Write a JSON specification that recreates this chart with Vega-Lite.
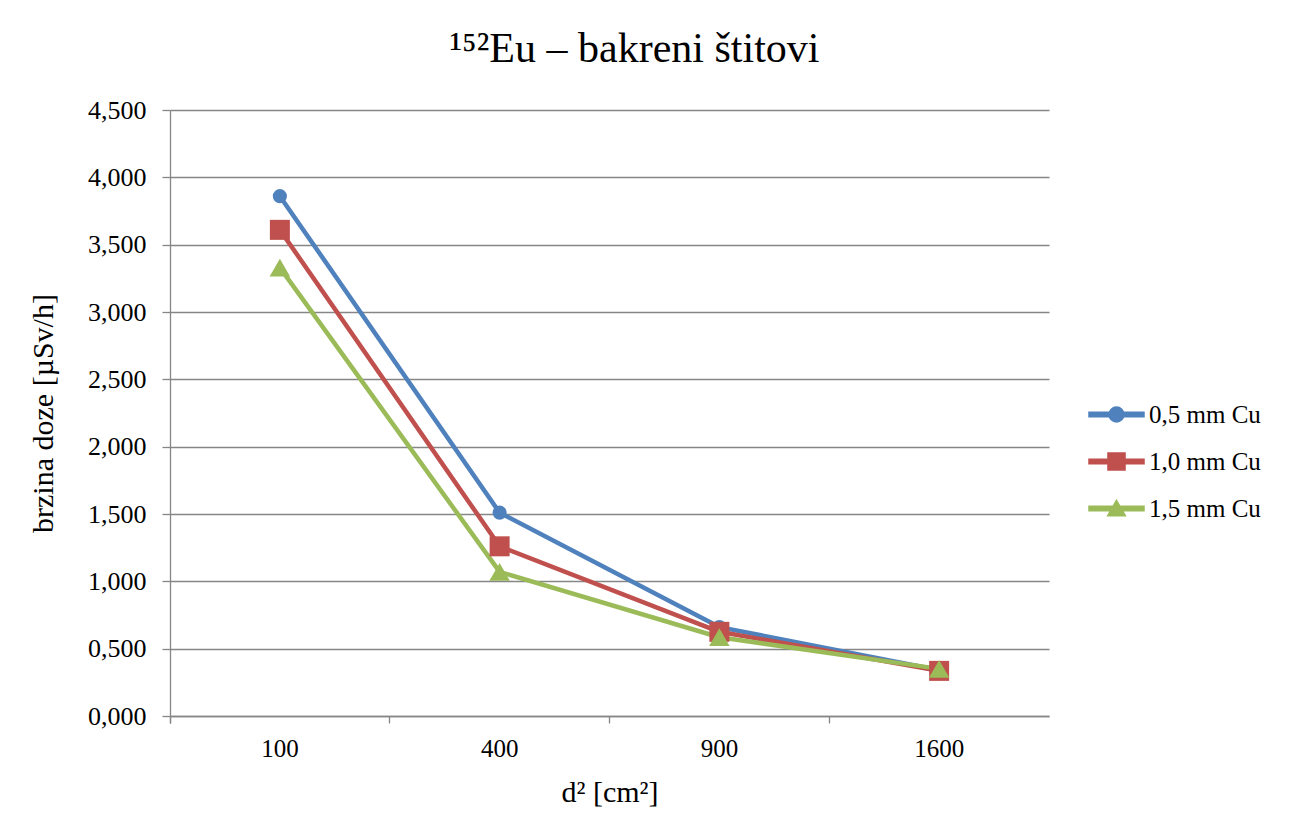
{
  "$schema": "https://vega.github.io/schema/vega-lite/v6.json",
  "width": 879,
  "height": 606,
  "autosize": {"type": "none"},
  "padding": {"left": 170, "top": 110, "right": 251, "bottom": 118},
  "background": "white",
  "config": {"view": {"stroke": null}, "font": "Liberation Serif"},
  "title": {"text": "¹⁵²Eu – bakreni štitovi", "fontSize": 42, "font": "Liberation Serif", "fontWeight": "normal", "color": "black", "anchor": "middle", "frame": "group", "dx": 25, "offset": 26},
  "data": {"values": [
    {"d2": "100", "doza": 3.86, "serija": "0,5 mm Cu"},
    {"d2": "400", "doza": 1.51, "serija": "0,5 mm Cu"},
    {"d2": "900", "doza": 0.66, "serija": "0,5 mm Cu"},
    {"d2": "1600", "doza": 0.34, "serija": "0,5 mm Cu"},
    {"d2": "100", "doza": 3.61, "serija": "1,0 mm Cu"},
    {"d2": "400", "doza": 1.26, "serija": "1,0 mm Cu"},
    {"d2": "900", "doza": 0.625, "serija": "1,0 mm Cu"},
    {"d2": "1600", "doza": 0.335, "serija": "1,0 mm Cu"},
    {"d2": "100", "doza": 3.33, "serija": "1,5 mm Cu"},
    {"d2": "400", "doza": 1.07, "serija": "1,5 mm Cu"},
    {"d2": "900", "doza": 0.585, "serija": "1,5 mm Cu"},
    {"d2": "1600", "doza": 0.35, "serija": "1,5 mm Cu"}
  ]},
  "encoding": {
    "x": {
      "field": "d2", "type": "ordinal", "sort": ["100", "400", "900", "1600"],
      "scale": {"type": "band", "paddingInner": 0, "paddingOuter": 0},
      "axis": {
        "title": "d² [cm²]", "titleFont": "Liberation Serif", "titleFontSize": 30, "titleFontWeight": "normal", "titleColor": "black", "titlePadding": 16,
        "labelAngle": 0, "labelFont": "Liberation Serif", "labelFontSize": 25, "labelColor": "black", "labelPadding": 13,
        "bandPosition": 0, "tickExtra": true, "labelOffset": 0,
        "domainColor": "#868686", "domainWidth": 1.3, "tickColor": "#868686", "tickWidth": 1.3, "tickSize": 7, "grid": false
      }
    },
    "y": {
      "field": "doza", "type": "quantitative",
      "scale": {"domain": [0, 4.5], "nice": false},
      "axis": {
        "title": "brzina doze [µSv/h]", "titleFont": "Liberation Serif", "titleFontSize": 30, "titleFontWeight": "normal", "titleColor": "black", "titlePadding": 29,
        "values": [0, 0.5, 1, 1.5, 2, 2.5, 3, 3.5, 4, 4.5],
        "labelExpr": "replace(format(datum.value, '.3f'), '.', ',')",
        "labelFont": "Liberation Serif", "labelFontSize": 26, "labelColor": "black", "labelPadding": 16,
        "domainColor": "#868686", "domainWidth": 1.3, "tickColor": "#868686", "tickWidth": 1.3, "tickSize": 8,
        "grid": true, "gridColor": "#868686", "gridWidth": 1.3
      }
    },
    "color": {
      "field": "serija", "type": "nominal",
      "scale": {"domain": ["0,5 mm Cu", "1,0 mm Cu", "1,5 mm Cu"], "range": ["#4F81BD", "#C0504D", "#9BBB59"]},
      "legend": {
        "title": null, "orient": "none", "legendX": 918, "legendY": 276,
        "labelFont": "Liberation Serif", "labelFontSize": 25, "labelColor": "black",
        "symbolSize": 3025, "labelOffset": 4, "rowPadding": 5,
        "encode": {
          "symbols": {
            "update": {
              "shape": {"signal": "datum.value === '0,5 mm Cu' ? 'M-1,-0.08H1V0.08H-1Z M-0.27,0A0.27,0.27 0 1,1 0.27,0A0.27,0.27 0 1,1 -0.27,0Z' : datum.value === '1,0 mm Cu' ? 'M-1,-0.08H1V0.08H-1Z M-0.31,-0.31H0.31V0.31H-0.31Z' : 'M-1,-0.08H1V0.08H-1Z M0,-0.3L0.32,0.26L-0.32,0.26Z'"},
              "size": {"value": 3025},
              "fill": {"signal": "scale('color', datum.value)"},
              "stroke": {"value": "transparent"},
              "opacity": {"value": 1},
              "fillOpacity": {"value": 1}
            }
          }
        }
      }
    }
  },
  "layer": [
    {"mark": {"type": "line", "strokeWidth": 4.5, "strokeJoin": "round", "strokeCap": "round"}},
    {
      "transform": [{"filter": "datum.serija === '0,5 mm Cu'"}],
      "mark": {"type": "point", "shape": "circle", "size": 200, "filled": true, "opacity": 1}
    },
    {
      "transform": [{"filter": "datum.serija === '1,0 mm Cu'"}],
      "mark": {"type": "point", "shape": "square", "size": 400, "filled": true, "opacity": 1}
    },
    {
      "transform": [{"filter": "datum.serija === '1,5 mm Cu'"}],
      "mark": {"type": "point", "shape": "triangle-up", "size": 420, "filled": true, "opacity": 1}
    }
  ]
}
